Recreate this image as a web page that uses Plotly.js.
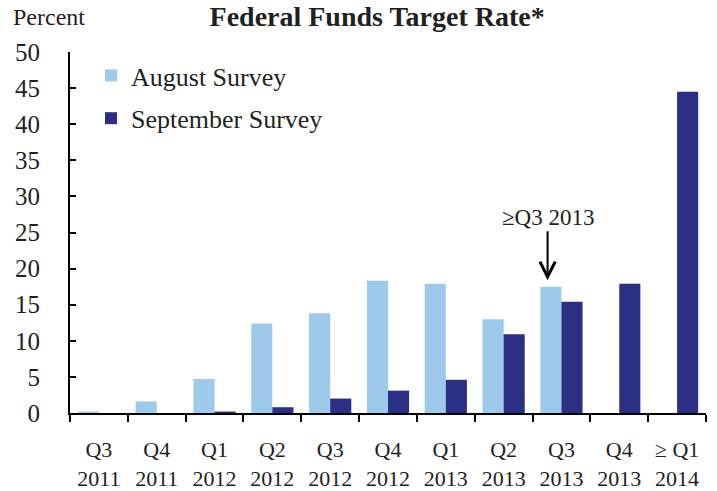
<!DOCTYPE html>
<html>
<head>
<meta charset="utf-8">
<script src="https://cdn.plot.ly/plotly-3.0.1.min.js"></script>
<style>
  html, body { margin: 0; padding: 0; background: #fff; }
  #chart { width: 717px; height: 491px; }
</style>
</head>
<body>
<div id="chart"></div>
<script>
// Federal funds target rate survey: expected timing of first hike

const quarters = ['Q3<br>2011', 'Q4<br>2011', 'Q1<br>2012', 'Q2<br>2012', 'Q3<br>2012', 'Q4<br>2012',
                  'Q1<br>2013', 'Q2<br>2013', 'Q3<br>2013', 'Q4<br>2013', '≥ Q1<br>2014'];
const augustSurvey = [0.2, 1.6, 4.7, 12.4, 13.8, 18.3, 17.9, 13.0, 17.5, 0, 0];
const septemberSurvey = [0, 0, 0.2, 0.8, 2.0, 3.1, 4.6, 10.9, 15.4, 17.9, 44.5];
const yTicks = [0, 5, 10, 15, 20, 25, 30, 35, 40, 45, 50];

const textColor = '#231f20';
const serif = 'Liberation Serif, Times New Roman, serif';

const data = [
    {
        x: quarters,
        y: augustSurvey,
        name: 'August Survey',
        type: 'bar',
        legendgroup: 'aug',
        marker: {color: '#9dc9ea'}
    },
    {
        x: quarters,
        y: septemberSurvey,
        name: 'September Survey',
        type: 'bar',
        legendgroup: 'sep',
        marker: {color: '#2b3084'}
    }
];

const layout = {
    width: 717,
    height: 491,
    margin: {l: 70, r: 11, t: 52, b: 78},
    paper_bgcolor: '#ffffff',
    plot_bgcolor: '#ffffff',
    font: {family: serif, color: textColor, size: 24},
    barmode: 'group',
    bargap: 0.27,
    bargroupgap: 0,
    title: {
        text: '<b>Federal Funds Target Rate*</b>',
        font: {family: serif, size: 28, color: textColor},
        xref: 'container',
        x: 0.526,
        xanchor: 'center',
        yref: 'container',
        y: 0.968,
        yanchor: 'middle'
    },
    showlegend: true,
    legend: {
        x: 0.033,
        y: 1.0,
        xanchor: 'left',
        yanchor: 'top',
        bgcolor: 'rgba(0,0,0,0)',
        font: {family: serif, size: 26, color: textColor},
        tracegroupgap: 6,
        itemwidth: 30,
        traceorder: 'grouped'
    },
    xaxis: {
        type: 'category',
        showline: true,
        linecolor: '#000',
        linewidth: 2,
        showgrid: false,
        zeroline: false,
        ticks: 'outside',
        tickson: 'boundaries',
        ticklen: 7,
        tickwidth: 2,
        tickcolor: '#000',
        tickfont: {family: serif, size: 22, color: textColor},
        ticklabelstandoff: 16
    },
    yaxis: {
        range: [0, 50],
        tickvals: yTicks,
        showline: true,
        linecolor: '#000',
        linewidth: 2,
        showgrid: false,
        zeroline: false,
        ticks: 'inside',
        ticklen: 6,
        tickwidth: 2,
        tickcolor: '#000',
        tickfont: {family: serif, size: 25, color: textColor},
        ticklabelstandoff: 23
    },
    annotations: [
        {
            text: 'Percent',
            xref: 'paper',
            yref: 'paper',
            x: -0.033,
            y: 1.097,
            xanchor: 'center',
            yanchor: 'middle',
            showarrow: false,
            font: {family: serif, size: 24, color: textColor}
        },
        {
            text: '≥Q3 2013',
            xref: 'x',
            yref: 'y',
            x: 7.76,
            y: 18.4,
            ax: 0,
            ay: -63,
            showarrow: true,
            arrowhead: 5,
            arrowsize: 1.5,
            arrowwidth: 2,
            arrowcolor: '#000',
            standoff: 0,
            font: {family: serif, size: 23, color: textColor}
        }
    ]
};

Plotly.newPlot('chart', data, layout, {displayModeBar: false, staticPlot: true});
</script>
</body>
</html>
